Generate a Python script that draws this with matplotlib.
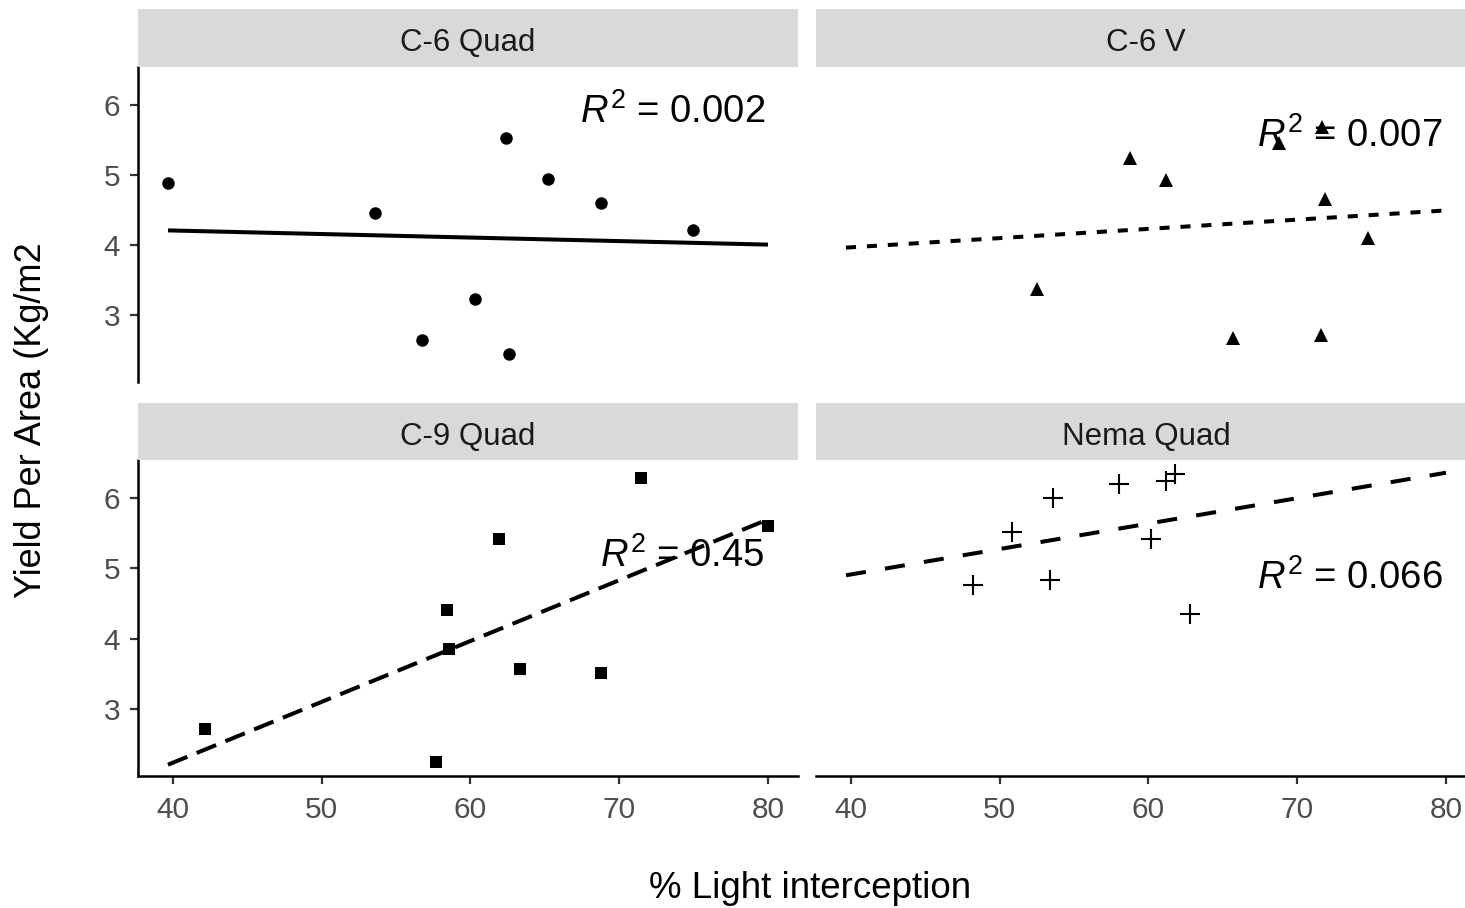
import numpy as np
import matplotlib
matplotlib.use("Agg")
import matplotlib.pyplot as plt
import matplotlib.transforms as mtransforms

plt.rcParams['font.family'] = ['Liberation Sans', 'DejaVu Sans']
plt.rcParams['mathtext.fontset'] = 'custom'
plt.rcParams['mathtext.rm'] = 'Liberation Sans'
plt.rcParams['mathtext.it'] = 'Liberation Sans:italic'

# ---------------- data ----------------
panels = ["C-6 Quad", "C-6 V", "C-9 Quad", "Nema Quad"]

x_c6quad = [39.67, 53.6, 56.74, 60.28, 62.38, 62.58, 65.21, 68.77, 74.93]
y_c6quad = [4.88, 4.46, 2.65, 3.24, 5.52, 2.45, 4.94, 4.60, 4.22]

x_c6v = [52.5, 58.76, 61.16, 65.65, 68.78, 71.65, 71.89, 71.6, 74.77]
y_c6v = [3.37, 5.24, 4.93, 2.68, 5.455, 5.69, 4.66, 2.715, 4.10]

x_c9quad = [42.16, 57.69, 58.4, 58.54, 61.9, 63.33, 68.76, 71.45, 80.0]
y_c9quad = [2.72, 2.25, 4.41, 3.86, 5.42, 3.57, 3.51, 6.29, 5.60]

x_nema = [48.18, 50.86, 53.38, 53.58, 58.04, 60.14, 61.15, 61.76, 62.77]
y_nema = [4.76, 5.52, 4.83, 6.00, 6.20, 5.42, 6.24, 6.34, 4.35]

r2_labels = ["0.002", "0.007", "0.45", "0.066"]

x_ticks = [40, 50, 60, 70, 80]
y_ticks = [3, 4, 5, 6]

xs = [x_c6quad, x_c6v, x_c9quad, x_nema]
ys = [y_c6quad, y_c6v, y_c9quad, y_nema]

# ---------------- styles ----------------
markers = ['o', '^', 's', '+']
msizes = [9, 10.5, 8.8, 15]
mews = [0, 0, 0, 1.5]
LW = 2.9
dash_styles = ['-', (0, (2.5, 2.7)), (0, (5.2, 2.5)), (0, (5.0, 4.8))]
r2_yfrac = [0.823, 0.744, 0.661, 0.592]

W, H = 1465, 908
fig = plt.figure(figsize=(W / 100, H / 100), dpi=100)


def rect(l, t, r, b):
    return [l / W, 1 - b / H, (r - l) / W, (b - t) / H]


panel_boxes = [(138, 66.5, 798, 382.5), (816, 66.5, 1476, 382.5),
               (138, 460, 798, 776), (816, 460, 1476, 776)]
strip_boxes = [(138, 8.5, 798, 66.5), (816, 8.5, 1476, 66.5),
               (138, 403, 798, 460), (816, 403, 1476, 460)]

allx = np.concatenate([np.asarray(v) for v in xs])
ally = np.concatenate([np.asarray(v) for v in ys])
xmin, xmax = allx.min(), allx.max()
ymin, ymax = ally.min(), ally.max()
xpad = (xmax - xmin) * 0.05
ypad = (ymax - ymin) * 0.05

for i in range(4):
    ax = fig.add_axes(rect(*panel_boxes[i]))
    x = np.asarray(xs[i])
    y = np.asarray(ys[i])
    # regression line over the full x range
    coef = np.polyfit(x, y, 1)
    xl = np.linspace(xmin, xmax, 200)
    ax.plot(xl, np.polyval(coef, xl), color='black', lw=LW,
            linestyle=dash_styles[i], solid_capstyle='butt', zorder=2)
    ax.plot(x, y, linestyle='none', marker=markers[i], ms=msizes[i],
            mew=mews[i], color='black', zorder=3)
    ax.set_xlim(xmin - xpad, xmax + xpad)
    ax.set_ylim(ymin - ypad, ymax + ypad)
    ax.set_xticks(x_ticks)
    ax.set_yticks(y_ticks)
    for s in ['top', 'right']:
        ax.spines[s].set_visible(False)
    left = i in (0, 2)
    bottom = i in (2, 3)
    ax.spines['left'].set_visible(left)
    ax.spines['bottom'].set_visible(bottom)
    for s in ['left', 'bottom']:
        ax.spines[s].set_linewidth(1.8)
        ax.spines[s].set_color('black')
    ax.tick_params(axis='both', length=5.8, width=1.6, color='#333333',
                   labelsize=21.5, labelcolor='#4D4D4D')
    ax.tick_params(axis='x', pad=8.5, bottom=bottom, labelbottom=bottom)
    ax.tick_params(axis='y', pad=7, left=left, labelleft=left)
    ax.patch.set_alpha(0)
    trans = mtransforms.blended_transform_factory(ax.transData, ax.transAxes)
    ax.text(79.8, r2_yfrac[i], r"$\mathit{R}^{2}$ = " + r2_labels[i],
            transform=trans, ha='right', va='baseline', fontsize=27.5,
            color='black', zorder=4)

    sax = fig.add_axes(rect(*strip_boxes[i]))
    sax.set_facecolor('#D9D9D9')
    sax.set_xticks([])
    sax.set_yticks([])
    for s in sax.spines.values():
        s.set_visible(False)
    sax.text(0.5, 0.41, panels[i], ha='center', va='center', fontsize=22.5,
             color='#1A1A1A', transform=sax.transAxes)

fig.text(810 / W, 1 - 888 / H, "% Light interception", ha='center',
         va='center', fontsize=26.5, color='black')
fig.text(32 / W, 1 - 420 / H, "Yield Per Area (Kg/m2", ha='center',
         va='center', rotation=90, fontsize=26, color='black')

fig.savefig("out.png", dpi=100)
